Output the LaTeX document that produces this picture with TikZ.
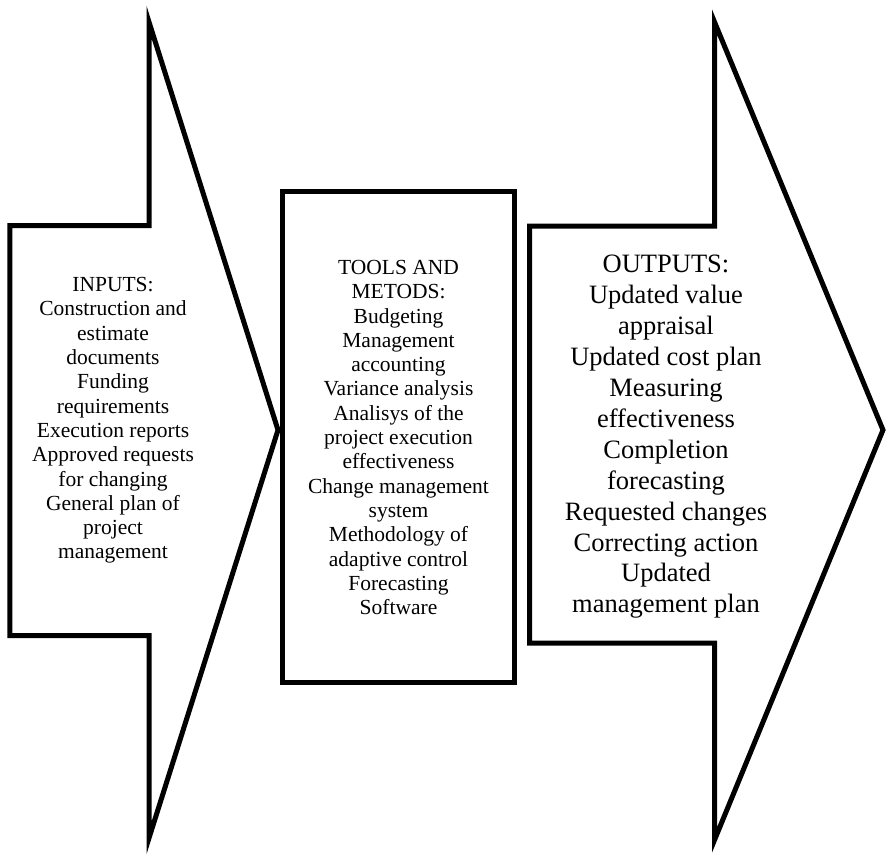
\documentclass[tikz,border=0pt]{standalone}
\usepackage{fontspec}
\setmainfont{Liberation Serif}

\begin{document}
\begin{tikzpicture}[x=1pt,y=-1pt,line width=5pt,
    smalltext/.style={align=center,inner sep=0pt,font=\fontsize{21.5}{24.3}\selectfont},
    bigtext/.style={align=center,inner sep=0pt,font=\fontsize{26.5}{30.9}\selectfont}]
    \useasboundingbox (0,0) rectangle (886,859);

    % Draw the input arrow
    \draw (9.8,225.5) -- (149,225.5) -- (149,22) -- (278,430) -- (149,838)
        -- (149,635.5) -- (9.8,635.5) -- cycle;
    \node[smalltext] (inputs) at (113,420.5) {INPUTS:\\Construction and\\estimate\\documents\\Funding\\requirements\\Execution reports\\Approved requests\\for changing\\General plan of\\project\\management};

    % Draw the box for the tools and methods
    \draw (282.5,191.5) rectangle (514.5,682.5);
    \node[smalltext] (tools) at (398.5,437.5) {TOOLS AND\\METODS:\\Budgeting\\Management\\accounting\\Variance analysis\\Analisys of the\\project execution\\effectiveness\\Change management\\system\\Methodology of\\adaptive control\\Forecasting\\Software};

    % Draw the output arrow
    \draw (529.5,226) -- (714.5,226) -- (714.5,22) -- (883,430) -- (714.5,840)
        -- (714.5,643) -- (529.5,643) -- cycle;
    \node[bigtext] (outputs) at (666,437) {OUTPUTS:\\Updated value\\appraisal\\Updated cost plan\\Measuring\\effectiveness\\Completion\\forecasting\\Requested changes\\Correcting action\\Updated\\management plan};
\end{tikzpicture}
\end{document}
